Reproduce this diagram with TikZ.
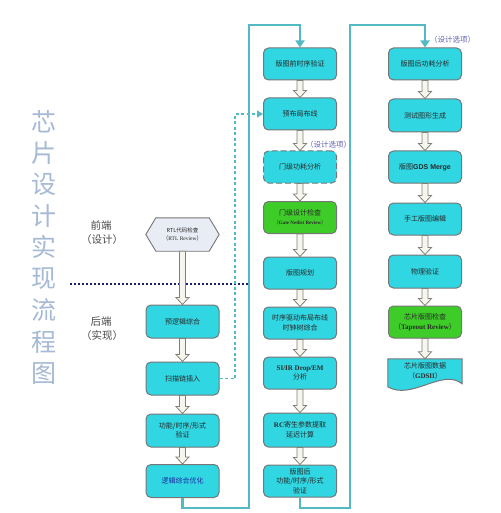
\documentclass[tikz,border=0pt]{standalone}
\usepackage{fontspec}
\setmainfont{Noto Sans CJK SC}
\newfontfamily\latserif{Liberation Serif}
\newfontfamily\latsans{Liberation Sans}
\usetikzlibrary{calc,arrows.meta}
\definecolor{boxc}{RGB}{48,214,226}
\definecolor{grn}{RGB}{62,204,40}
\definecolor{bord}{RGB}{118,118,118}
\definecolor{teal1}{RGB}{82,186,194}
\definecolor{titlec}{RGB}{166,186,214}
\definecolor{navy}{RGB}{28,30,110}
\definecolor{optc}{RGB}{96,96,176}
\definecolor{arrf}{RGB}{246,246,238}
\definecolor{arrd}{RGB}{128,128,118}
\definecolor{rtlc}{RGB}{232,236,244}
\definecolor{txt}{RGB}{40,40,40}
\newcommand\blkarrow[2]{%
  \path let \p1=(#1.south), \p2=(#2.north) in
    [draw=arrd, fill=arrf, line width=0.8pt, line join=miter]
    (\x1-3pt,\y1) -- (\x1-3pt,\y2+7pt) -- (\x1-6.5pt,\y2+7pt) -- (\x1,\y2) --
    (\x1+6.5pt,\y2+7pt) -- (\x1+3pt,\y2+7pt) -- (\x1+3pt,\y1) -- cycle;}
\begin{document}
\begin{tikzpicture}[x=1pt,y=-1pt,
  box/.style={draw=bord, line width=1pt, fill=boxc, rounded corners=5pt,
    minimum width=73pt, minimum height=32pt, align=center, text=txt,
    font=\fontsize{7}{9.5}\selectfont, inner sep=1pt},
  gbox/.style={box, fill=grn},
  dbox/.style={box, dash pattern=on 6pt off 3pt},
  plain/.style={minimum width=73pt, minimum height=30pt, align=center, text=txt,
    font=\fontsize{7}{9.5}\selectfont, inner sep=1pt},
  tline/.style={draw=teal1, line width=2.4pt},
  tarrow/.style={-{Triangle[length=7pt,width=9pt]}},
  titlech/.style={text=titlec, font=\fontsize{25}{25}\selectfont, inner sep=0pt},
  sidelab/.style={text=txt!85, font=\fontsize{10.5}{12}\selectfont, inner sep=0pt},
  optlab/.style={text=optc, font=\fontsize{7.5}{9}\selectfont, inner sep=0pt, anchor=west}]
\useasboundingbox (0,0) rectangle (500,513);
\fill[white] (0,0) rectangle (500,513);

% title
\foreach \c [count=\i from 0] in {芯,片,设,计,实,现,流,程,图}
  \node[titlech] (t\i) at (43.5,{121.5+31.45*\i}) {\c};

% side labels
\node[sidelab] (fe1) at (101,225) {前端};
\node[sidelab] (fe2) at (102,239.5) {（设计）};
\node[sidelab] (be1) at (101,322) {后端};
\node[sidelab] (be2) at (102,336) {（实现）};

% separator
\coordinate (h1) at (70,284);
\coordinate (h2) at (248,284);
\draw[navy, line width=1.3pt, dash pattern=on 2.2pt off 1.8pt] (h1) -- (h2);

% column 1
\node[plain, minimum height=33pt, font=\fontsize{5.5}{8}\selectfont] (rtl) at (182.5,234.5)
  {RTL代码检查\\（{\latserif RTL Review}）};
\draw[draw=bord, line width=0.9pt, fill=rtlc]
  (rtl.west) -- ($(rtl.north west)+(10,0)$) -- ($(rtl.north east)+(-10,0)$) --
  (rtl.east) -- ($(rtl.south east)+(-10,0)$) -- ($(rtl.south west)+(10,0)$) -- cycle;
\node[plain, minimum height=33pt, font=\fontsize{5.5}{8}\selectfont] at (rtl.center)
  {RTL代码检查\\（{\latserif RTL Review}）};
\node[box, minimum height=33pt] (b1) at (182.5,321.5) {预逻辑综合};
\node[box, minimum height=33pt] (b2) at (182.5,378.5) {扫描链插入};
\node[box, minimum height=33pt] (b3) at (182.5,430.5) {功能/时序/形式\\验证};
\node[box, minimum height=33pt, text={rgb,255:red,30;green,40;blue,160}] (b4) at (182.5,481) {逻辑综合优化};

% column 2
\node[box] (c1) at (300,64) {版图前时序验证};
\node[box] (c2) at (300,114) {预布局布线};
\node[dbox] (c3) at (300,167) {门级功耗分析};
\node[gbox, font=\fontsize{7}{9}\selectfont] (c4) at (300,217.5) {门级设计检查\\{\fontsize{5}{7}\selectfont （{\latserif\bfseries Gate Netlist Review}）}};
\node[box] (c5) at (300,273) {版图规划};
\node[box] (c6) at (300,323) {时序驱动布局布线\\时钟树综合};
\node[box] (c7) at (300,373) {{\latserif\bfseries SI/IR Drop/EM}\\分析};
\node[box, minimum height=34pt] (c8) at (300,430) {{\latserif\bfseries RC}寄生参数提取\\延迟计算};
\node[box] (c9) at (300,481) {版图后\\功能/时序/形式\\验证};

% column 3
\node[box] (d1) at (425,64) {版图后功耗分析};
\node[box, minimum height=33pt] (d2) at (425,115.5) {测试图形生成};
\node[box] (d3) at (425,167) {版图{\latsans\bfseries GDS Merge}};
\node[box] (d4) at (425,219) {手工版图编辑};
\node[box, minimum height=33pt] (d5) at (425,271.5) {物理验证};
\node[gbox, font=\fontsize{7}{10}\selectfont] (d6) at (425,322) {芯片版图检查\\（{\latserif\bfseries Tapeout Review}）};
\node[plain, minimum width=74pt, minimum height=24pt] (d7) at (425,371) {芯片版图数据\\（{\latserif\bfseries GDSII}）};
\path[draw=bord, line width=1pt, fill=boxc]
  (d7.north west) -- (d7.north east) -- ($(d7.north east)+(0,25)$)
  .. controls ($(d7.north east)+(-20,9)$) and ($(d7.north west)+(24,42)$) ..
  ($(d7.north west)+(0,28)$) -- cycle;
\node[plain, minimum width=74pt, minimum height=24pt] at (d7.center) {芯片版图数据\\（{\latserif\bfseries GDSII}）};

% block arrows
\blkarrow{rtl}{b1}
\blkarrow{b1}{b2}
\blkarrow{b2}{b3}
\blkarrow{b3}{b4}
\blkarrow{c1}{c2}
\blkarrow{c2}{c3}
\blkarrow{c3}{c4}
\blkarrow{c4}{c5}
\blkarrow{c5}{c6}
\blkarrow{c6}{c7}
\blkarrow{c7}{c8}
\blkarrow{c8}{c9}
\blkarrow{d1}{d2}
\blkarrow{d2}{d3}
\blkarrow{d3}{d4}
\blkarrow{d4}{d5}
\blkarrow{d5}{d6}
\blkarrow{d6}{d7}

% teal loop lines
\coordinate (l1b) at (249,508);
\coordinate (l1c) at (249,25);
\draw[tline, tarrow] (b4.south) |- (l1b) -- (l1c) -| (c1.north);
\coordinate (l2b) at (350,508);
\coordinate (l2c) at (350,25);
\draw[tline, tarrow] (c9.south) |- (l2b) -- (l2c) -| (d1.north);

% dashed option path
\coordinate (dv) at (235,0);
\draw[draw=teal1, line width=1.8pt, dash pattern=on 3pt off 2.5pt,
  -{Triangle[length=6pt,width=7pt]}] (b2.east) -| (dv |- c2.west) -- (c2.west);

% option labels
\node[optlab] (o1) at (306,145) {（设计选项）};
\node[optlab] (o2) at (430,40) {（设计选项）};
\end{tikzpicture}
\end{document}
